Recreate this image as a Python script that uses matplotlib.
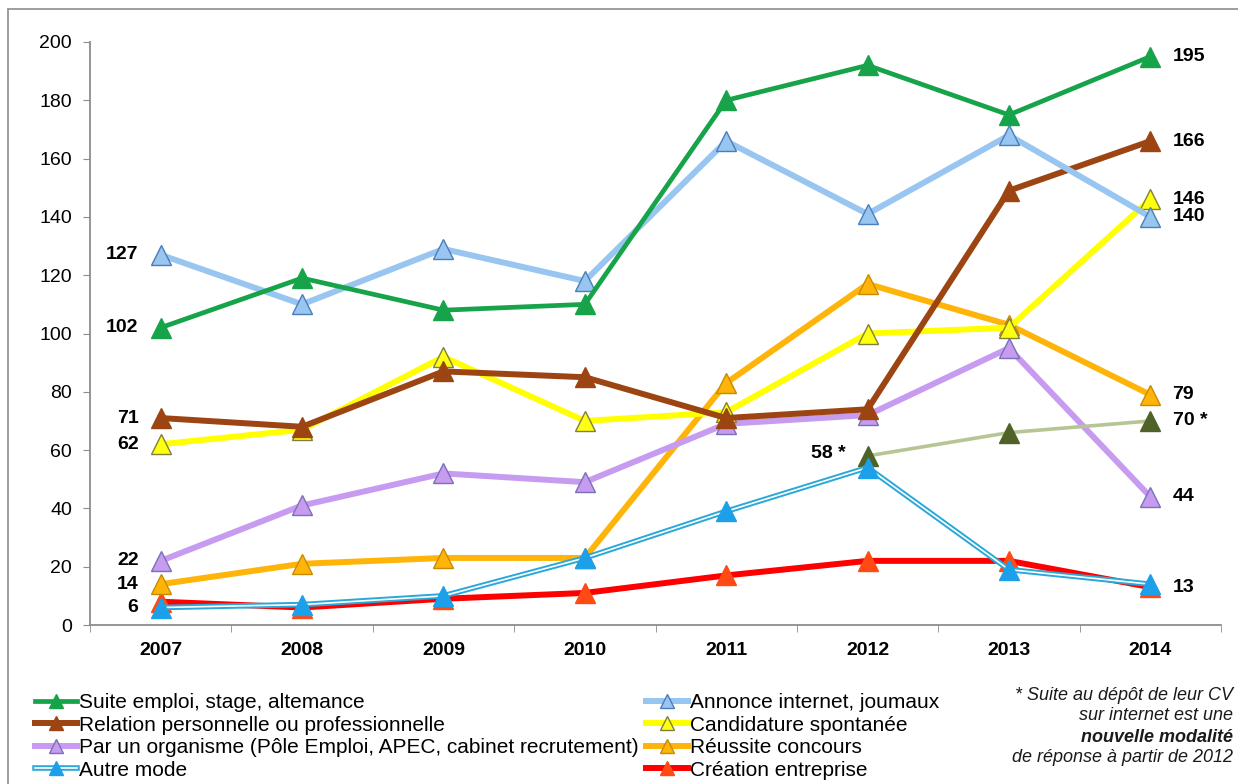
import matplotlib
matplotlib.use("Agg")
import matplotlib.pyplot as plt
from matplotlib.lines import Line2D
from matplotlib.patches import Rectangle
from matplotlib.legend_handler import HandlerTuple

# Données
years = [2007, 2008, 2009, 2010, 2011, 2012, 2013, 2014]
suite_emploi = [102, 119, 108, 110, 180, 192, 175, 195]
annonce = [127, 110, 129, 118, 166, 141, 168, 140]
relation = [71, 68, 87, 85, 71, 74, 149, 166]
candidature = [62, 67, 92, 70, 73, 100, 102, 146]
organisme = [22, 41, 52, 49, 69, 72, 95, 44]
concours = [14, 21, 23, 23, 83, 117, 103, 79]
autre = [6, 7, 10, 23, 39, 54, 19, 14]
creation = [8, 6, 9, 11, 17, 22, 22, 13]
cv_years = [2012, 2013, 2014]
cv_internet = [58, 66, 70]

plt.rcParams['font.family'] = ['Liberation Sans', 'DejaVu Sans']

fig = plt.figure(figsize=(12.38, 7.84), dpi=100)
ax = fig.add_axes([90 / 1238, 1 - 625 / 784, (1221 - 90) / 1238, (625 - 42) / 784])

# Cadre extérieur
fig.patches.append(Rectangle((8 / 1238, -0.01), 1.02, 1 - 9 / 784 + 0.01, transform=fig.transFigure,
                             fill=False, edgecolor='#8c8c8c', linewidth=1.2))

ms = 14
lw = 4.3
ax.plot(years, creation, color='#ff0000', lw=lw, zorder=3, marker='^', ms=ms,
        mfc='#ff4a14', mec='#ff4a14')
ax.plot(years, autre, color='#2aa8d8', lw=4, zorder=4)
ax.plot(years, autre, color='white', lw=1.2, zorder=4)
ax.plot(years, autre, lw=0, zorder=4, marker='^', ms=ms, mfc='#1ca0ea', mec='#1ca0ea')
ax.plot(years, concours, color='#ffb40a', lw=lw, zorder=3, marker='^', ms=ms,
        mfc='#ffb40a', mec='#c88a00')
ax.plot(years, organisme, color='#c79cf0', lw=lw, zorder=3, marker='^', ms=ms,
        mfc='#c79cf0', mec='#7a70b8')
ax.plot(years, candidature, color='#ffff00', lw=lw, zorder=3, marker='^', ms=ms,
        mfc='#ffff10', mec='#80803a')
ax.plot(years, relation, color='#9c4512', lw=lw, zorder=3, marker='^', ms=ms,
        mfc='#9c4512', mec='#9c4512')
ax.plot(years, annonce, color='#98c6f0', lw=lw, zorder=3, marker='^', ms=ms,
        mfc='#98c6f0', mec='#4a7ebb')
ax.plot(years, suite_emploi, color='#17a34a', lw=3.4, zorder=3, marker='^', ms=ms,
        mfc='#17a34a', mec='#17a34a')
ax.plot(cv_years, cv_internet, color='#b7c594', lw=2.6, zorder=3, marker='^', ms=ms,
        mfc='#4f6228', mec='#4f6228')

# Étiquettes de valeurs
lab_kw = dict(textcoords='offset points', fontsize=14, fontweight='bold', va='center')
for v in [annonce[0], suite_emploi[0], relation[0], candidature[0], organisme[0], concours[0], autre[0]]:
    ax.annotate(str(v), (years[0], v), xytext=(-16, 0), ha='right', **lab_kw)
for v in [suite_emploi[-1], relation[-1], candidature[-1], annonce[-1], concours[-1],
          organisme[-1], creation[-1]]:
    ax.annotate(str(v), (years[-1], v), xytext=(16, 0), ha='left', **lab_kw)
ax.annotate(f"{cv_internet[-1]} *", (cv_years[-1], cv_internet[-1]), xytext=(16, 0), ha='left', **lab_kw)
ax.annotate(f"{cv_internet[0]} *", (cv_years[0], cv_internet[0]), xytext=(-16, 2), ha='right', **lab_kw)

ax.set_xlim(2006.5, 2014.5)
ax.set_ylim(0, 200)
ax.set_yticks(range(0, 201, 20))
ax.set_xticks(years)
ax.set_xticks([y - 0.5 for y in years] + [2014.5], minor=True)
ax.tick_params(axis='x', which='major', length=0, pad=12, labelsize=14)
ax.tick_params(axis='x', which='minor', length=5, color='#8c8c8c', direction='out')
ax.tick_params(axis='y', length=5, color='#8c8c8c', labelsize=14, pad=8)
for lab in ax.get_xticklabels():
    lab.set_fontweight('bold')
for s in ['top', 'right']:
    ax.spines[s].set_visible(False)
for s in ['left', 'bottom']:
    ax.spines[s].set_color('#8c8c8c')
    ax.spines[s].set_linewidth(1.3)

# Légende en deux colonnes
def h(color, mfc, mec, lw=lw):
    return Line2D([], [], color=color, lw=lw, marker='^', ms=10, mfc=mfc, mec=mec)

autre_h = (Line2D([], [], color='#2aa8d8', lw=4), Line2D([], [], color='white', lw=1.2),
           Line2D([], [], lw=0, marker='^', ms=10, mfc='#1ca0ea', mec='#1ca0ea'))
col1 = [h('#17a34a', '#17a34a', '#17a34a', 3.4), h('#9c4512', '#9c4512', '#9c4512'),
        h('#c79cf0', '#c79cf0', '#7a70b8'), autre_h]
col1_lab = ["Suite emploi, stage, altemance", "Relation personnelle ou professionnelle",
            "Par un organisme (Pôle Emploi, APEC, cabinet recrutement)", "Autre mode"]
col2 = [h('#98c6f0', '#98c6f0', '#4a7ebb'), h('#ffff00', '#ffff10', '#80803a'),
        h('#ffb40a', '#ffb40a', '#c88a00'), h('#ff0000', '#ff4a14', '#ff4a14')]
col2_lab = ["Annonce internet, joumaux", "Candidature spontanée", "Réussite concours",
            "Création entreprise"]
leg_kw = dict(loc='upper left', frameon=False, handlelength=2.0, handletextpad=0.1,
              labelspacing=0.17, borderaxespad=0, borderpad=0,
              prop={'size': 15},
              handler_map={tuple: HandlerTuple(ndivide=1)})
fig.legend(col1, col1_lab, bbox_to_anchor=(35 / 1238, 1 - 693 / 784), **leg_kw)
fig.legend(col2, col2_lab, bbox_to_anchor=(646 / 1238, 1 - 693 / 784), **leg_kw)

# Note
note_kw = dict(ha='right', va='center', fontsize=13, style='italic', color='#1a1a1a')
fig.text(1233 / 1238, 1 - 695 / 784, "* Suite au dépôt de leur CV", **note_kw)
fig.text(1233 / 1238, 1 - 716 / 784, "sur internet est une", **note_kw)
fig.text(1233 / 1238, 1 - 737 / 784, "nouvelle modalité", fontweight='bold', **note_kw)
fig.text(1233 / 1238, 1 - 758 / 784, "de réponse à partir de 2012", **note_kw)

fig.savefig("out.png", dpi=100)
